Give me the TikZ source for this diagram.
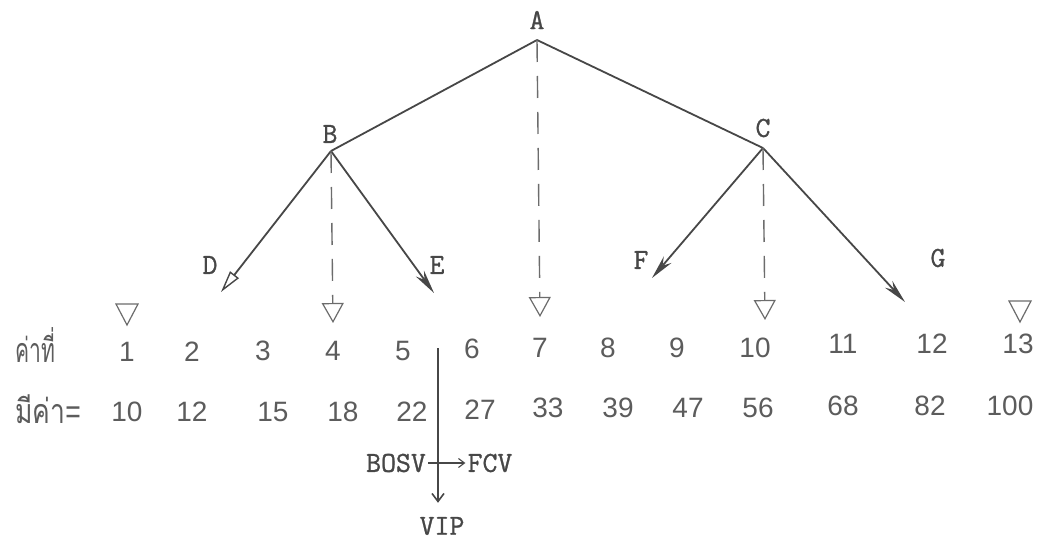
\documentclass[tikz,border=0pt]{standalone}
\usepackage{fontspec}
\setmainfont{Liberation Sans}
\newfontfamily\typewriter{Latin Modern Mono}[FakeBold=1.0]
\newfontfamily\thaifont[Script=Thai]{Loma}
\usetikzlibrary{arrows.meta}
\definecolor{ink}{HTML}{474747}
\definecolor{pencil}{HTML}{5C5C5C}
\tikzset{
  typed/.style={font=\typewriter\fontsize{29}{29}\selectfont, text=ink, inner sep=0pt},
  digit/.style={font=\fontsize{28}{28}\selectfont, text=pencil, inner sep=0pt},
  thai/.style={font=\thaifont\fontsize{34}{34}\selectfont, text=pencil, inner sep=0pt, anchor=base west},
  branch/.style={draw=ink, line width=1.8pt},
  guide/.style={draw=ink!80, line width=1.4pt, dash pattern=on 22pt off 14pt},
  hollowtip/.style={-{Triangle[open, length=20pt, width=22pt, line width=1.2pt]}},
  openhead/.style={-{Triangle[open, length=22pt, width=11pt, line width=1.4pt]}},
  solidhead/.style={-{Stealth[length=24pt, width=10pt]}},
  marker/.style={draw=ink!80, line width=1.2pt},
}
\begin{document}
\begin{tikzpicture}[x=1pt, y=-1pt]
\useasboundingbox[fill=white] (0,0) rectangle (1037,543);

% branch points of the tree
\coordinate (a) at (537,40);
\coordinate (b) at (331,151);
\coordinate (c) at (763,148);
\node[typed] (lA) at (537,20) {A};
\node[typed] (lB) at (330,134) {B};
\node[typed] (lC) at (763,128) {C};
\node[typed] (lD) at (210,265) {D};
\node[typed] (lE) at (437,265) {E};
\node[typed] (lF) at (641,260) {F};
\node[typed] (lG) at (938,258) {G};

% leaf ends
\coordinate (d) at (221,292);
\coordinate (e) at (434,293);
\coordinate (f) at (652,278);
\coordinate (g) at (905,302);

% dashed drop ends
\coordinate (ta) at (540,317);
\coordinate (tb) at (333,323);
\coordinate (tc) at (765,320);

% edges
\draw[branch] (a) -- (b);
\draw[branch] (a) -- (c);
\draw[branch, openhead] (b) -- (d);
\draw[branch, solidhead] (b) -- (e);
\draw[branch, solidhead] (c) -- (f);
\draw[branch, solidhead] (c) -- (g);

% dashed drops to the middle entries
\draw[guide, hollowtip] (a) -- (ta);
\draw[guide, hollowtip] (b) -- (tb);
\draw[guide, hollowtip] (c) -- (tc);

% end markers above the first and last entries
\coordinate (m1) at (127,325);
\coordinate (m13) at (1020,322);
\foreach \m in {m1, m13}
  \draw[marker] (\m) ++(-11,-21) -- ++(22,0) -- ++(-11,21) -- cycle;

% row labels
\node[thai] (r1) at (15,362) {\scalebox{0.62}[1]{ค่าที่}};
\node[thai] (r2) at (15,423) {\scalebox{0.78}[1]{มีค่า\fontspec{Liberation Sans}=}};

% positions
\foreach \x/\y/\t [count=\i] in {127/352/1, 192/352/2, 263/351/3, 333/351/4, 403/351/5,
    472/349/6, 540/348/7, 608/348/8, 677/348/9, 755/348/10, 843/344/11, 932/344/12, 1018/344/13}
  \node[digit] (p\i) at (\x,\y) {\t};

% values
\foreach \x/\y/\t [count=\i] in {127/412/10, 192/412/12, 273/412/15, 343/412/18, 412/412/22,
    480/410/27, 548/408/33, 618/408/39, 688/408/47, 758/408/56, 843/406/68, 930/406/82, 1010/406/100}
  \node[digit] (v\i) at (\x,\y) {\t};

% split between 5 and 6
\node[typed] (bosv) at (396,463) {BOSV};
\node[typed] (fcv) at (490,463) {FCV};
\node[typed] (vip) at (442,526) {VIP};
\coordinate (split) at (438,348);
\draw[draw=ink, line width=1.6pt, -{Straight Barb[length=8pt, width=12pt]}, shorten >=14pt] (split) -- (split |- vip.north);
\draw[draw=ink, line width=1.1pt, -{Straight Barb[length=6pt, width=9pt]}] (bosv.east) ++(2,0) -- ([xshift=-2pt]fcv.west);
\end{tikzpicture}
\end{document}
